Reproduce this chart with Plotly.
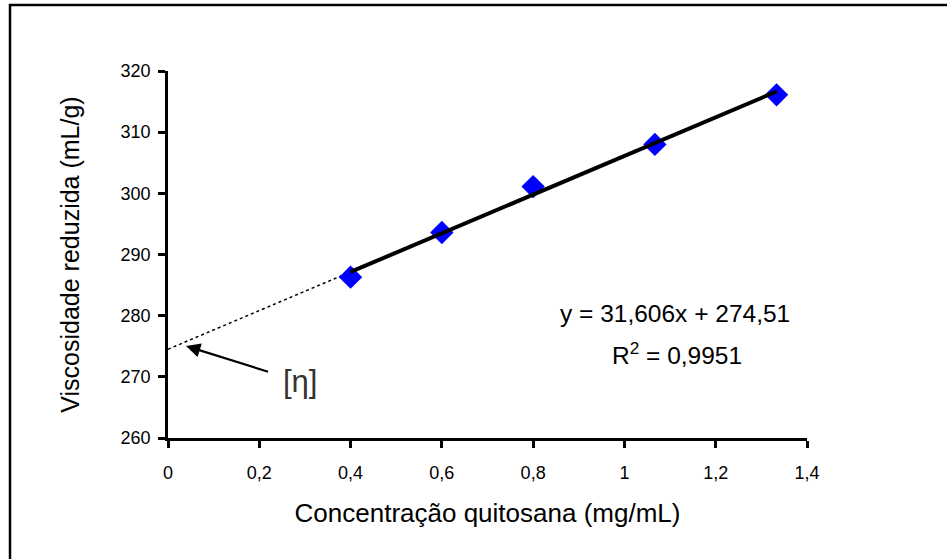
import plotly.graph_objects as go

# Data
conc = [0.4, 0.6, 0.8, 1.0667, 1.3333]
visc = [286.3, 293.6, 301.1, 308.0, 316.1]
slope = 31.606
intercept = 274.51
x_ticks = [0, 0.2, 0.4, 0.6, 0.8, 1.0, 1.2, 1.4]
x_ticktext = ["0", "0,2", "0,4", "0,6", "0,8", "1", "1,2", "1,4"]
y_ticks = [260, 270, 280, 290, 300, 310, 320]
y_ticktext = ["260", "270", "280", "290", "300", "310", "320"]
eq_text = "y = 31,606x + 274,51"
r2_text = "R<sup>2</sup> = 0,9951"

FONT = "Liberation Sans, Arial, sans-serif"

fit_x_solid = [min(conc), max(conc)]
fit_y_solid = [slope * v + intercept for v in fit_x_solid]
fit_x_dot = [0.0, 0.45]
fit_y_dot = [slope * v + intercept for v in fit_x_dot]

fig = go.Figure()
fig.add_trace(go.Scatter(x=fit_x_dot, y=fit_y_dot, mode="lines",
                         line=dict(color="black", width=1.5, dash="dot"),
                         showlegend=False, hoverinfo="skip"))
fig.add_trace(go.Scatter(x=conc, y=visc, mode="markers",
                         marker=dict(symbol="diamond", size=18, color="#0000FF"),
                         showlegend=False))
fig.add_trace(go.Scatter(x=fit_x_solid, y=fit_y_solid, mode="lines",
                         line=dict(color="black", width=4),
                         showlegend=False, hoverinfo="skip"))

fig.update_layout(
    width=947, height=559,
    margin=dict(l=168, r=140, t=71, b=121),
    paper_bgcolor="white", plot_bgcolor="white",
    font=dict(family=FONT, color="black"),
    xaxis=dict(range=[0, 1.4], tickvals=x_ticks, ticktext=x_ticktext,
               showgrid=False, zeroline=False, showline=True, linecolor="black",
               linewidth=2.5, ticks="outside", ticklen=7, tickwidth=2.5,
               tickcolor="black", tickfont=dict(size=18, family=FONT),
               ticklabelstandoff=10,
               title=dict(text="Concentração quitosana (mg/mL)",
                          font=dict(size=26, family=FONT), standoff=22)),
    yaxis=dict(range=[260, 320], tickvals=y_ticks, ticktext=y_ticktext,
               showgrid=False, zeroline=False, showline=True, linecolor="black",
               linewidth=2.5, ticks="outside", ticklen=7, tickwidth=2.5,
               tickcolor="black", tickfont=dict(size=18, family=FONT),
               ticklabelstandoff=4,
               title=dict(text="Viscosidade reduzida (mL/g)",
                          font=dict(size=25, family=FONT), standoff=34)),
)

# [η] label with arrow pointing to the intercept
fig.add_annotation(x=0.0395, y=275.04, xref="x", yref="y",
                   ax=0.289, ay=269.2, axref="x", ayref="y",
                   text="[η]", showarrow=True, arrowhead=2, arrowsize=1.3,
                   arrowwidth=2.2, arrowcolor="black", standoff=0,
                   startstandoff=14,
                   font=dict(size=31, family=FONT, color="#333333"))
fig.add_annotation(x=1.11, y=280.3, xref="x", yref="y", text=eq_text,
                   showarrow=False, font=dict(size=24.5, family=FONT))
fig.add_annotation(x=1.115, y=273.8, xref="x", yref="y", text=r2_text,
                   showarrow=False, font=dict(size=24.5, family=FONT))

# outer chart border
fig.add_shape(type="rect", xref="paper", yref="paper",
              x0=(10 - 168) / 639, x1=(990 - 168) / 639,
              y0=(438 - 600) / 367, y1=1 + (71 - 5) / 367,
              line=dict(color="black", width=2.5), fillcolor="rgba(0,0,0,0)",
              layer="below")

fig.write_html("out.html")
